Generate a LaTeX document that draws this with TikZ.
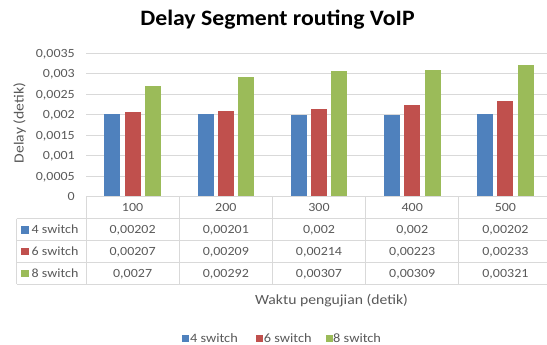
\documentclass[tikz,border=0pt]{standalone}
\usepackage{fontspec}
\setmainfont{Carlito}
\newfontfamily\chartfont[FakeStretch=1.12]{Carlito}
\newfontfamily\headfont[FakeStretch=1.08]{Carlito}
\definecolor{sblue}{HTML}{4F81BD}
\definecolor{sred}{HTML}{C0504D}
\definecolor{sgreen}{HTML}{9BBB59}
\definecolor{txtgray}{HTML}{595959}
\definecolor{rulegray}{HTML}{D9D9D9}
\tikzset{
  gridline/.style={draw=rulegray, line width=1pt},
  tabline/.style={draw=rulegray, line width=1pt},
  ticklbl/.style={anchor=base east, inner sep=0pt, text=txtgray, font=\chartfont\fontsize{12.5}{14}\selectfont},
  cell/.style={anchor=base, inner sep=0pt, text=txtgray, font=\chartfont\fontsize{12.5}{14}\selectfont},
  rowlbl/.style={anchor=base west, inner sep=0pt, text=txtgray, font=\chartfont\fontsize{12.5}{14}\selectfont},
  axtitle/.style={anchor=base, inner sep=0pt, text=txtgray, font=\chartfont\fontsize{14}{16}\selectfont},
  legtext/.style={anchor=base west, inner sep=0pt, text=txtgray, font=\chartfont\fontsize{12.8}{14}\selectfont},
  keybox/.style={inner sep=0pt, minimum size=7.5pt},
}
\begin{document}
\begin{tikzpicture}[x=1pt, y=-1pt]
\useasboundingbox (0,0) rectangle (547,345);
\fill[white] (0,0) rectangle (547,345);

% chart title
\node[anchor=base, inner sep=0pt, font=\headfont\bfseries\fontsize{22}{24}\selectfont] (title) at (277.5,26) {Delay Segment routing VoIP};

% value axis: gridlines and labels (0 at y=196.8, 20.5 per 0.0005)
\foreach \k/\lbl in {1/{0,0005},2/{0,001},3/{0,0015},4/{0,002},5/{0,0025},6/{0,003},7/{0,0035}} {
  \draw[gridline] (86,196.8-20.5*\k) -- (547,196.8-20.5*\k);
  \node[ticklbl] (tick\k) at (75,196.8-20.5*\k+4) {\lbl};
}
\node[ticklbl] (tick0) at (75,200.8) {0};

% axis titles
\node[axtitle, rotate=90] (ytitle) at (23.5,123) {Delay (detik)};
\node[axtitle] (xtitle) at (331.5,304) {Waktu pengujian (detik)};

% bars: values in units of 0.001, 41 px per unit
\foreach \i/\a/\b/\c in {0/2.02/2.07/2.7, 1/2.01/2.09/2.92, 2/2.0/2.14/3.07, 3/2.0/2.23/3.09, 4/2.02/2.33/3.21} {
  \pgfmathsetmacro{\cx}{86+93.2*(\i+0.5)}
  \fill[sblue]  (\cx-28.3,196.8) rectangle (\cx-12.3,196.8-41*\a);
  \fill[sred]   (\cx-8,196.8)    rectangle (\cx+8,196.8-41*\b);
  \fill[sgreen] (\cx+12.3,196.8) rectangle (\cx+28.3,196.8-41*\c);
}

% data table grid
\draw[tabline] (86,196.8) -- (547,196.8);
\foreach \y in {218.6,240.4,262.2,284} \draw[tabline] (16.7,\y) -- (547,\y);
\draw[tabline] (16.7,218.6) -- (16.7,284);
\foreach \x in {86,179.2,272.4,365.6,458.8} \draw[tabline] (\x,196.8) -- (\x,284);

% table header and values
\foreach \i/\h/\a/\b/\c in {0/100/{0,00202}/{0,00207}/{0,0027},
                           1/200/{0,00201}/{0,00209}/{0,00292},
                           2/300/{0,002}/{0,00214}/{0,00307},
                           3/400/{0,002}/{0,00223}/{0,00309},
                           4/500/{0,00202}/{0,00233}/{0,00321}} {
  \pgfmathsetmacro{\cx}{86+93.2*(\i+0.5)}
  \node[cell] (hd\i) at (\cx,211.7) {\h};
  \node[cell] (va\i) at (\cx,233.5) {\a};
  \node[cell] (vb\i) at (\cx,255.3) {\b};
  \node[cell] (vc\i) at (\cx,277.1) {\c};
}

% table row labels with keys
\node[keybox, fill=sblue]  (tka) at (25,229.8) {};
\node[rowlbl] (tla) at (31.5,233.5) {4 switch};
\node[keybox, fill=sred]   (tkb) at (25,251.6) {};
\node[rowlbl] (tlb) at (31.5,255.3) {6 switch};
\node[keybox, fill=sgreen] (tkc) at (25,273.4) {};
\node[rowlbl] (tlc) at (31.5,277.1) {8 switch};

% legend
\node[keybox, minimum size=7pt, fill=sblue]  (lka) at (185.3,338.5) {};
\node[legtext] (lla) at (189.8,342) {4 switch};
\node[keybox, minimum size=7pt, fill=sred]   (lkb) at (259.3,338.5) {};
\node[legtext] (llb) at (263.6,342) {6 switch};
\node[keybox, minimum size=7pt, fill=sgreen] (lkc) at (329.8,338.5) {};
\node[legtext] (llc) at (333,342) {8 switch};
\end{tikzpicture}
\end{document}
